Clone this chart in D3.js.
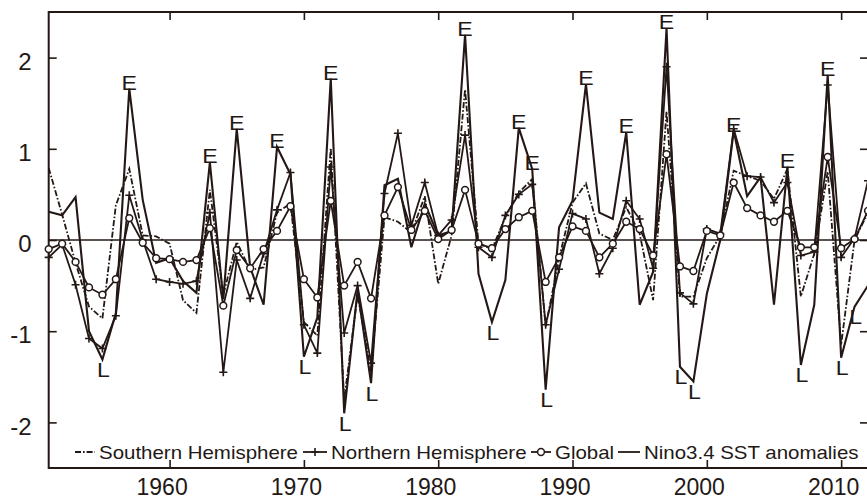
<!DOCTYPE html>
<html><head><meta charset="utf-8">
<script src="https://cdn.jsdelivr.net/npm/d3@7"></script>
<style>
body{margin:0;background:#fff}
svg{display:block}
text{font-family:"Liberation Sans",Arial,sans-serif;fill:#231815}
</style>
</head><body>
<svg id="chart" width="867" height="500"></svg>
<script>
// ---------------- data ----------------
const startYear = 1951, endYear = 2012;
const years = d3.range(startYear, endYear + 1);

const southern = [0.79, 0.28, -0.25, -0.73, -0.86, 0.38, 0.78, 0.05, 0.04, -0.04,
  -0.66, -0.80, 0.55, -0.60, -0.02, -0.33, -0.30, 0.30, 0.40, -0.90,
  -1.05, 1.01, -1.75, -0.60, -1.45, 0.25, 0.20, 0.08, 0.48, -0.48,
  0.05, 1.65, -0.04, -0.10, 0.25, 0.52, 0.67, -0.95, -0.20, 0.41,
  0.62, 0.07, 0.00, 0.36, 0.07, -0.66, 1.41, -0.62, -0.62, -0.20,
  0.05, 0.76, 0.70, 0.65, 0.45, 0.78, -0.62, -0.15, 0.75, -1.15,
  0.00, 0.30];

const northern = [-0.19, -0.05, -0.49, -1.08, -1.19, -0.83, 0.49, 0.00, -0.43, -0.46,
  -0.48, -0.45, 0.30, -1.45, -0.22, -0.64, -0.15, 0.33, 0.74, -0.93,
  -1.24, 0.80, -1.02, -0.50, -1.35, 0.51, 1.17, 0.16, 0.63, 0.05,
  0.22, 1.15, -0.08, -0.19, 0.27, 0.50, 0.61, -0.93, -0.32, 0.29,
  0.23, -0.37, -0.09, 0.43, 0.23, -0.31, 1.90, -0.58, -0.70, 0.12,
  0.07, 1.22, 0.70, 0.69, 0.41, 0.63, -0.17, -0.13, 1.70, -0.19,
  0.02, 0.65];

const globalMean = [-0.10, -0.04, -0.24, -0.52, -0.60, -0.43, 0.24, -0.03, -0.20, -0.21,
  -0.24, -0.22, 0.13, -0.72, -0.11, -0.31, -0.10, 0.10, 0.37, -0.43,
  -0.63, 0.43, -0.50, -0.24, -0.64, 0.27, 0.58, 0.11, 0.32, 0.01,
  0.11, 0.55, -0.04, -0.09, 0.12, 0.25, 0.32, -0.46, -0.19, 0.15,
  0.10, -0.19, -0.04, 0.20, 0.12, -0.17, 0.94, -0.29, -0.34, 0.10,
  0.05, 0.63, 0.35, 0.27, 0.20, 0.32, -0.08, -0.08, 0.91, -0.09,
  0.01, 0.32];

const nino = [0.31, 0.27, 0.47, -1.00, -1.31, -0.80, 1.66, 0.44, -0.25, -0.20,
  -0.45, -0.58, 0.85, -0.65, 1.22, -0.30, -0.71, 1.02, 0.72, -1.28,
  -0.85, 1.77, -1.90, -0.55, -1.57, 0.60, 0.67, -0.08, 0.40, 0.05,
  0.10, 2.25, -0.37, -0.90, -0.44, 1.23, 0.78, -1.64, 0.14, 0.43,
  1.71, 0.30, 0.23, 1.18, -0.71, -0.35, 2.32, -1.39, -1.55, -0.59,
  0.00, 1.20, 0.48, 0.69, -0.71, 0.80, -1.37, -0.71, 1.81, -1.29,
  -0.73, -0.50];

const elNinoYears = [1957, 1963, 1965, 1968, 1972, 1982, 1986, 1987, 1991, 1994, 1997, 2002, 2006, 2009];
const laNinaYears = [1955, 1970, 1973, 1975, 1984, 1988, 1998, 1999, 2007, 2010, 2011];

const xTicks = [1960, 1970, 1980, 1990, 2000, 2010];
const yTicks = [-2, -1, 0, 1, 2];
const legendLabels = ["Southern Hemisphere", "Northern Hemisphere", "Global", "Nino3.4 SST anomalies"];

// ---------------- drawing ----------------
const ink = "#231815";
const svg = d3.select("#chart");
const L = 48.7, R = 868, T = 12, B = 468;

const x = d3.scaleLinear().domain([startYear, endYear]).range([L, R]);
const y = d3.scaleLinear().domain([-2.5, 2.5]).range([B, T]);

function styleAxis(g) {
  g.select(".domain").remove();
  g.selectAll(".tick line").attr("stroke", ink).attr("stroke-width", 1.6);
}
const fontFam = '"Liberation Sans", Arial, sans-serif';

// bottom axis (inward ticks)
const gB = svg.append("g").attr("transform", `translate(0,${B})`)
  .call(d3.axisBottom(x).tickValues(xTicks).tickFormat(d => String(d)).tickSizeInner(-8).tickSizeOuter(0))
  .call(styleAxis);
gB.selectAll(".tick text").attr("font-size", 23).attr("fill", ink)
  .attr("font-family", fontFam).attr("x", -8).attr("y", 27).attr("dy", null);

svg.append("g").attr("transform", `translate(0,${T})`)
  .call(d3.axisTop(x).tickValues(xTicks).tickFormat("").tickSizeInner(-8).tickSizeOuter(0))
  .call(styleAxis);

const gL = svg.append("g").attr("transform", `translate(${L},0)`)
  .call(d3.axisLeft(y).tickValues(yTicks).tickFormat(d => String(d)).tickSizeInner(-8).tickSizeOuter(0).tickPadding(17))
  .call(styleAxis);
gL.selectAll(".tick text").attr("font-size", 24).attr("fill", ink)
  .attr("font-family", fontFam).attr("y", 4);

svg.append("g").attr("transform", `translate(${R},0)`)
  .call(d3.axisRight(y).tickValues(yTicks).tickFormat("").tickSizeInner(-8).tickSizeOuter(0))
  .call(styleAxis);

// frame
svg.append("rect").attr("x", L).attr("y", T).attr("width", R - L).attr("height", B - T)
  .attr("fill", "none").attr("stroke", ink).attr("stroke-width", 2);

// zero line
svg.append("line").attr("x1", L).attr("x2", R).attr("y1", y(0)).attr("y2", y(0))
  .attr("stroke", ink).attr("stroke-width", 1.6);

const line = d3.line().x((d, i) => x(years[i])).y(d => y(d));
const dashSH = "6,2,1.6,2";

svg.append("path").datum(nino).attr("d", line).attr("fill", "none")
  .attr("stroke", ink).attr("stroke-width", 2.1);
svg.append("path").datum(southern).attr("d", line).attr("fill", "none")
  .attr("stroke", ink).attr("stroke-width", 1.8).attr("stroke-dasharray", dashSH);
svg.append("path").datum(northern).attr("d", line).attr("fill", "none")
  .attr("stroke", ink).attr("stroke-width", 1.8);
svg.append("path").datum(globalMean).attr("d", line).attr("fill", "none")
  .attr("stroke", ink).attr("stroke-width", 1.8);

const plusPath = "M-4,0H4M0,-4V4";
svg.append("g").selectAll("path").data(northern).join("path")
  .attr("transform", (d, i) => `translate(${x(years[i])},${y(d)})`)
  .attr("d", plusPath).attr("stroke", ink).attr("stroke-width", 1.6).attr("fill", "none");
svg.append("g").selectAll("circle").data(globalMean).join("circle")
  .attr("cx", (d, i) => x(years[i])).attr("cy", d => y(d)).attr("r", 3.4)
  .attr("fill", "#fff").attr("stroke", ink).attr("stroke-width", 1.5);

// E / L labels
const ninoAt = yr => nino[years.indexOf(yr)];
svg.append("g").selectAll("text.e").data(elNinoYears).join("text").attr("class", "e")
  .attr("transform", d => `translate(${x(d)},${y(ninoAt(d)) + 1}) scale(1.1,1)`)
  .attr("text-anchor", "middle").attr("font-size", 21).text("E");
svg.append("g").selectAll("text.l").data(laNinaYears).join("text").attr("class", "l")
  .attr("transform", d => `translate(${x(d) + 1},${y(ninoAt(d)) + 17.5}) scale(1.1,1)`)
  .attr("text-anchor", "middle").attr("font-size", 21).text("L");

// legend
const legendY = 452;
const legend = svg.append("g");
const itemStarts = [75, 303, 531, 618];
const sampleW = [20, 24, 20, 22];
legendLabels.forEach((lab, i) => {
  const sx = itemStarts[i];
  const ln = legend.append("line").attr("x1", sx).attr("x2", sx + sampleW[i])
    .attr("y1", legendY).attr("y2", legendY).attr("stroke", ink).attr("stroke-width", 1.8);
  if (i === 0) ln.attr("stroke-dasharray", dashSH);
  if (i === 1) legend.append("path").attr("d", plusPath)
    .attr("transform", `translate(${sx + sampleW[i] / 2},${legendY})`)
    .attr("stroke", ink).attr("stroke-width", 1.6);
  if (i === 2) legend.append("circle").attr("cx", sx + sampleW[i] / 2).attr("cy", legendY).attr("r", 3.4)
    .attr("fill", "#fff").attr("stroke", ink).attr("stroke-width", 1.5);
  legend.append("text")
    .attr("transform", `translate(${sx + sampleW[i] + 4},${legendY + 6.5}) scale(1.1,1)`)
    .attr("font-size", 18.6).text(lab);
});
</script>
</body></html>
